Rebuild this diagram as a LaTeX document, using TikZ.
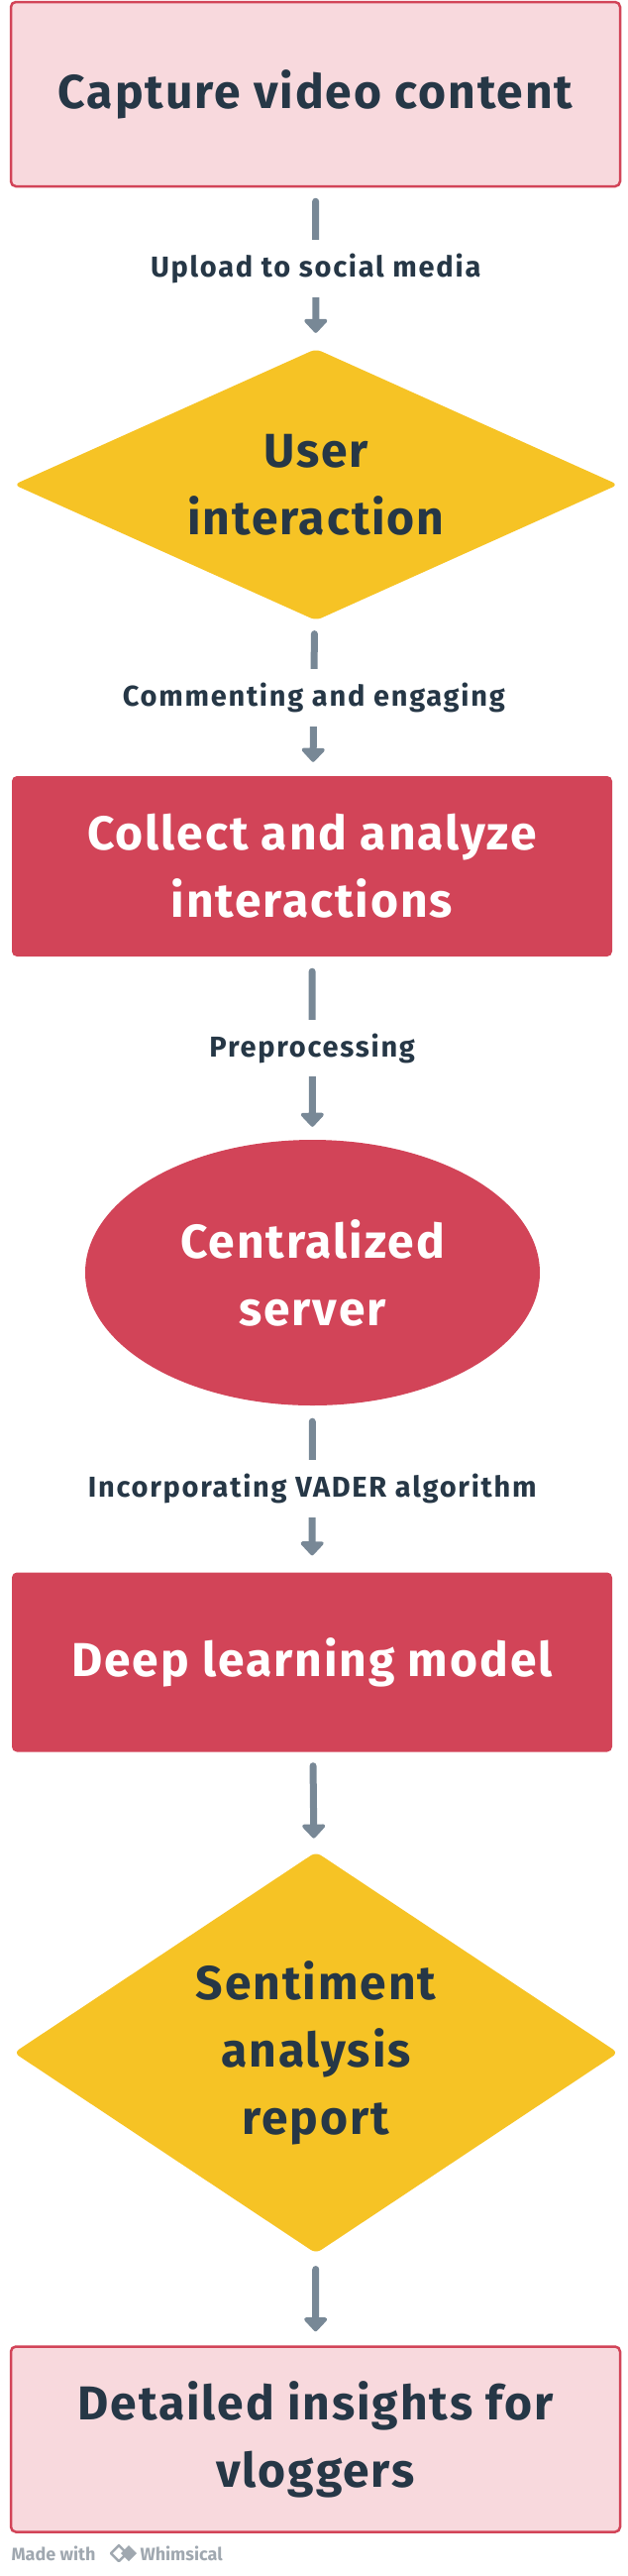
\documentclass[tikz,border=0pt]{standalone}
\usepackage{fontspec}
\setmainfont{Fira Sans}
\usetikzlibrary{shapes.geometric,arrows.meta}
\definecolor{txt}{HTML}{263746}
\definecolor{pinkf}{HTML}{F8D9DD}
\definecolor{redb}{HTML}{D24458}
\definecolor{yel}{HTML}{F6C325}
\definecolor{arr}{HTML}{788896}
\definecolor{mute}{HTML}{A0A8B0}
\begin{document}
\begin{tikzpicture}[x=1pt,y=-1pt,
  big/.style={font=\fontsize{48}{68}\selectfont\bfseries\addfontfeatures{LetterSpace=4}, align=center, text=txt},
  pinkbox/.style={big, draw=redb, fill=pinkf, line width=2.5pt, rounded corners=5pt, minimum width=615, inner sep=0},
  redbox/.style={big, text=white, fill=redb, rounded corners=5pt, minimum width=606, inner sep=0},
  dia/.style={big, diamond, fill=yel, minimum width=610, inner sep=0, rounded corners=6pt},
  ell/.style={big, text=white, ellipse, fill=redb, minimum width=459, minimum height=268, inner sep=0},
  lab/.style={font=\fontsize{29}{34}\selectfont\bfseries\addfontfeatures{LetterSpace=6}, text=txt, fill=white, inner xsep=2, inner ysep=14},
  con/.style={draw=arr, line width=7pt, line cap=round, -{Triangle[width=27pt,length=15pt,round]}}]
\useasboundingbox (0,0) rectangle (634,2599);
\node[pinkbox, minimum height=186] (n1) at (318.5,95) {Capture video content};
\node[dia, minimum height=274, aspect=2.23] (n2) at (319,489) {User\\interaction};
\node[redbox, minimum height=182] (n3) at (315,874) {Collect and analyze\\interactions};
\node[ell] (n4) at (315.5,1284) {Centralized\\server};
\node[redbox, minimum height=181] (n5) at (315,1677) {Deep learning model};
\node[dia, minimum height=405, aspect=1.5] (n6) at (319,2071) {Sentiment\\analysis\\report};
\node[pinkbox, minimum height=187] (n7) at (318.5,2461) {Detailed insights for\\vloggers};
\draw[con, shorten <=14, shorten >=16] (n1) -- node[lab]{Upload to social media} (n2);
\draw[con, shorten <=14, shorten >=14] (n2) -- node[lab]{Commenting and engaging} (n3);
\draw[con, shorten <=15, shorten >=13] (n3) -- node[lab]{Preprocessing} (n4);
\draw[con, shorten <=16, shorten >=17] (n4) -- node[lab]{Incorporating VADER algorithm} (n5);
\draw[con, shorten <=14, shorten >=15] (n5) -- (n6);
\draw[con, shorten <=16, shorten >=14] (n6) -- (n7);
\node[font=\fontsize{18}{20}\selectfont\bfseries, text=mute, anchor=west] (mw) at (8,2576) {Made with};
\draw[mute, line width=2.5pt, line join=round] (112,2576) -- (120,2568) -- (128,2576) -- (120,2584) -- cycle;
\fill[mute] (122,2576) -- (130,2568) -- (138,2576) -- (130,2584) -- cycle;
\node[font=\fontsize{18}{20}\selectfont\bfseries, text=mute, anchor=west] (wh) at (138,2576) {Whimsical};
\end{tikzpicture}
\end{document}
